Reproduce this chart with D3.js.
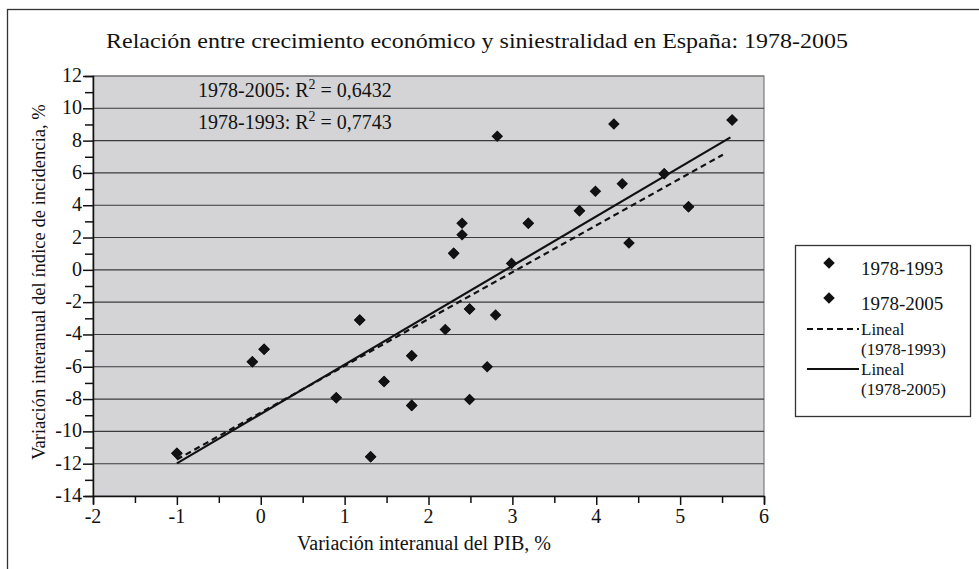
<!DOCTYPE html>
<html>
<head>
<meta charset="utf-8">
<script src="https://cdn.jsdelivr.net/npm/d3@7"></script>
<style>
body{margin:0;background:#fff;}
text{font-family:"Liberation Serif","Times New Roman",serif;fill:#111;}
</style>
</head>
<body>
<script>
// data: [PIB %, indice de incidencia %]
var points1993 = [
	[1.80,-5.32],[0.04,-4.92],[1.31,-11.57],[-0.10,-5.69],[1.18,-3.11],[1.80,-8.39],
	[1.47,-6.91],[2.30,1.02],[3.19,2.88],[5.62,9.28],[5.10,3.91],[4.81,5.95],
	[3.80,3.66],[2.49,-2.43],[0.90,-7.92],[-1.00,-11.36]
];
var points1994to2005 = [
	[2.49,-8.02],[2.80,-2.80],[2.40,2.88],[3.99,4.86],[4.21,9.03],[4.31,5.33],
	[2.99,0.40],[2.40,2.17],[2.20,-3.69],[2.70,-6.00],[2.82,8.27],[4.39,1.66]
];
var points2005 = points1993.concat(points1994to2005);
var trend1993 = [[-1.00,-11.74],[5.51,7.13]];
var trend2005 = [[-1.00,-11.98],[5.60,8.20]];
var xTicks = [-2,-1,0,1,2,3,4,5,6];
var yTicks = [-14,-12,-10,-8,-6,-4,-2,0,2,4,6,8,10,12];
var r2Labels = [['1978-2005: R','2',' = 0,6432'],['1978-1993: R','2',' = 0,7743']];
var legendItems = ['1978-1993','1978-2005',['Lineal','(1978-1993)'],['Lineal','(1978-2005)']];

var width = 979, height = 569;
var plot = {left:93,right:764,top:76,bottom:496};

var svg = d3.select('body').append('svg').attr('width',width).attr('height',height);

// outer frame
svg.append('rect').attr('x',7.5).attr('y',9.5).attr('width',990).attr('height',600)
	.attr('fill','none').attr('stroke','#333').attr('stroke-width',1.3);

svg.append('text').attr('x',106).attr('y',48)
	.attr('textLength',742).attr('lengthAdjust','spacingAndGlyphs')
	.style('font-size','22px')
	.text('Relación entre crecimiento económico y siniestralidad en España: 1978-2005');

var x = d3.scaleLinear().domain([-2,6]).range([plot.left,plot.right]);
var y = d3.scaleLinear().domain([-14,12]).range([plot.bottom,plot.top]);

svg.append('rect').attr('x',plot.left).attr('y',plot.top)
	.attr('width',plot.right-plot.left).attr('height',plot.bottom-plot.top)
	.attr('fill','#d4d4d6').attr('stroke','#666').attr('stroke-width',1);

// gridlines
svg.append('g').selectAll('line').data(yTicks.filter(d=>d>-14)).enter().append('line')
	.attr('x1',plot.left).attr('x2',plot.right)
	.attr('y1',d=>y(d)).attr('y2',d=>y(d))
	.attr('stroke',d=>d==12?'#777':'#3a3a3a').attr('stroke-width',1.1);

// axes
var xAxis = svg.append('g').attr('transform',`translate(0,${plot.bottom})`)
	.call(d3.axisBottom(x).tickValues(d3.range(-2,6.01,0.5)).tickSize(8).tickFormat(''));
xAxis.selectAll('.tick line').attr('y2',d=>Number.isInteger(d)?9:7);
var yAxis = svg.append('g').attr('transform',`translate(${plot.left},0)`)
	.call(d3.axisLeft(y).tickValues(d3.range(-14,12.01,1)).tickSize(8).tickFormat(''));
yAxis.selectAll('.tick line').attr('x2',d=>d%2==0?-10:-8);
svg.selectAll('.domain').attr('stroke','#111').attr('stroke-width',1.5);
svg.selectAll('.tick line').attr('stroke','#111').attr('stroke-width',1.5);

svg.append('g').selectAll('text').data(xTicks).enter().append('text')
	.attr('x',d=>x(d)).attr('y',523).attr('text-anchor','middle')
	.style('font-size','20px').text(d=>d);
svg.append('g').selectAll('text').data(yTicks).enter().append('text')
	.attr('x',82).attr('y',d=>y(d)+6).attr('text-anchor','end')
	.style('font-size','20px').text(d=>d);

svg.append('text').attr('x',424).attr('y',550).attr('text-anchor','middle')
	.style('font-size','20px').text('Variación interanual del PIB, %');
svg.append('text').attr('transform',`translate(45,282) rotate(-90)`)
	.attr('text-anchor','middle').style('font-size','18.6px')
	.text('Variación interanual del índice de incidencia, %');

// trend lines
var line = d3.line().x(d=>x(d[0])).y(d=>y(d[1]));
svg.append('path').attr('d',line(trend1993)).attr('fill','none')
	.attr('stroke','#111').attr('stroke-width',2.2).attr('stroke-dasharray','6,4');
svg.append('path').attr('d',line(trend2005)).attr('fill','none')
	.attr('stroke','#111').attr('stroke-width',2.2);

// markers
var diamond = d3.symbol().type(d3.symbolDiamond2).size(85);
[points2005,points1993].forEach(pts=>{
	svg.append('g').selectAll('path').data(pts).enter().append('path')
		.attr('d',diamond).attr('transform',d=>`translate(${x(d[0])},${y(d[1])})`)
		.attr('fill','#111');
});

// R2 labels
r2Labels.forEach((r,i)=>{
	var t = svg.append('text').attr('x',198).attr('y',97+i*32).style('font-size','20px');
	t.append('tspan').text(r[0]);
	t.append('tspan').attr('dy',-8).style('font-size','14px').text(r[1]);
	t.append('tspan').attr('dy',8).text(r[2]);
});

// legend
var lg = svg.append('g');
lg.append('rect').attr('x',795.5).attr('y',245.5).attr('width',175).attr('height',171)
	.attr('fill','#fff').attr('stroke','#333').attr('stroke-width',1.3);
[263,298].forEach((yy,i)=>{
	lg.append('path').attr('d',diamond).attr('transform',`translate(829,${yy})`).attr('fill','#111');
	lg.append('text').attr('x',861).attr('y',yy+12).style('font-size','19px').text(legendItems[i]);
});
lg.append('line').attr('x1',807).attr('x2',859).attr('y1',329).attr('y2',329)
	.attr('stroke','#111').attr('stroke-width',2).attr('stroke-dasharray','6,4');
lg.append('line').attr('x1',807).attr('x2',859).attr('y1',369).attr('y2',369)
	.attr('stroke','#111').attr('stroke-width',2);
[[335,355],[375,395]].forEach((b,i)=>{
	var it = legendItems[2+i];
	lg.append('text').attr('x',861).attr('y',b[0]).style('font-size','17px').text(it[0]);
	lg.append('text').attr('x',861).attr('y',b[1]).style('font-size','17px').text(it[1]);
});
</script>
</body>
</html>
